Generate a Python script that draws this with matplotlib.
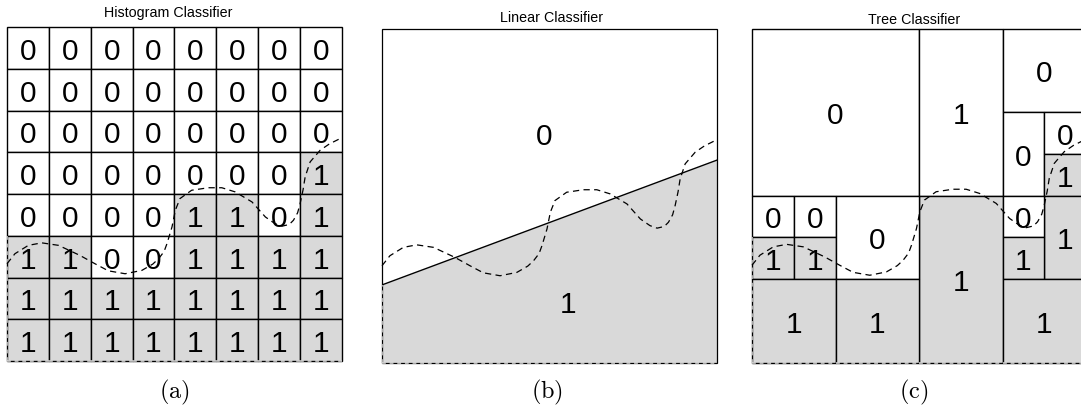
import matplotlib.pyplot as plt
from matplotlib.patches import Rectangle

plt.rcParams['font.family'] = ['Liberation Sans', 'DejaVu Sans']
plt.rcParams['mathtext.fontset'] = 'cm'

W, H = 1081, 406
GRAY = '#d9d9d9'

# histogram classifier, 8x8 cells, top row first
hist_labels = [
    [0, 0, 0, 0, 0, 0, 0, 0],
    [0, 0, 0, 0, 0, 0, 0, 0],
    [0, 0, 0, 0, 0, 0, 0, 0],
    [0, 0, 0, 0, 0, 0, 0, 1],
    [0, 0, 0, 0, 1, 1, 0, 1],
    [1, 1, 0, 0, 1, 1, 1, 1],
    [1, 1, 1, 1, 1, 1, 1, 1],
    [1, 1, 1, 1, 1, 1, 1, 1],
]

# true class boundary (dashed), in grid units 0..8
curve_x = [0.0, 0.19, 0.51, 0.83, 1.23, 1.74, 2.10, 2.42, 2.82, 3.22, 3.48,
           3.62, 3.75, 3.82, 3.94, 4.02, 4.13, 4.41, 4.81, 5.13, 5.45, 5.85,
           6.17, 6.40, 6.57, 6.74, 6.84, 6.94, 7.00, 7.07, 7.12, 7.24, 7.48,
           7.70, 7.96]
curve_y = [2.33, 2.57, 2.77, 2.83, 2.77, 2.53, 2.33, 2.16, 2.09, 2.17, 2.32,
           2.45, 2.62, 2.81, 3.21, 3.61, 3.89, 4.09, 4.15, 4.15, 4.05, 3.81,
           3.45, 3.29, 3.23, 3.27, 3.37, 3.55, 3.77, 4.10, 4.41, 4.77, 5.05,
           5.20, 5.33]

# linear classifier boundary
line_x = [0, 8]
line_y = [1.87, 4.86]
lin_label_x = [3.86, 4.45]
lin_label_y = [5.52, 1.49]
lin_labels = ['0', '1']

# tree classifier leaves
tree_x0 = [0, 4, 4, 6, 6, 7, 7, 7, 6, 6, 6, 0, 1, 0, 1, 2, 0, 2]
tree_y0 = [4, 4, 0, 6, 4, 5, 4, 2, 3, 2, 0, 3, 3, 2, 2, 2, 0, 0]
tree_x1 = [4, 6, 6, 8, 7, 8, 8, 8, 7, 7, 8, 1, 2, 1, 2, 4, 2, 4]
tree_y1 = [8, 8, 4, 8, 6, 6, 5, 4, 4, 3, 2, 4, 4, 3, 3, 4, 2, 2]
tree_label = [0, 1, 1, 0, 0, 0, 1, 1, 0, 1, 1, 0, 0, 1, 1, 0, 1, 1]
tree_shade = [0, 0, 1, 0, 0, 0, 1, 1, 0, 1, 1, 0, 0, 1, 1, 0, 1, 1]


def panel(left, top, right, bottom):
    ax = fig.add_axes([left / W, 1 - bottom / H, (right - left) / W, (bottom - top) / H])
    ax.set_xlim(0, 8)
    ax.set_ylim(0, 8)
    ax.axis('off')
    return ax


def gray_edge(ax, xs, ys):
    # outer border along shaded area looks dashed
    ax.plot(xs, ys, color=GRAY, lw=1.1, linestyle=(0, (2.5, 2.5)), clip_on=False, zorder=4)


def draw_curve(ax):
    ax.plot(curve_x, curve_y, color='black', lw=0.9, linestyle=(0, (5, 3.5)),
            clip_on=False, zorder=5)


def cell_text(ax, x, y, s):
    ax.text(x, y, s, ha='center', va='center_baseline', fontsize=21.5, zorder=3)


fig = plt.figure(figsize=(W / 100, H / 100), dpi=100)

# (a) histogram classifier
ax = panel(7, 28, 342, 362)
for r, row in enumerate(hist_labels):
    for c, lab in enumerate(row):
        y0 = 7 - r
        ax.add_patch(Rectangle((c, y0), 1, 1, facecolor=GRAY if lab else 'white',
                               edgecolor='black', lw=1.0, clip_on=False, zorder=2))
        cell_text(ax, c + 0.5, y0 + 0.5, str(lab))
        if lab and c == 0:
            gray_edge(ax, [0, 0], [y0, y0 + 1])
        if lab and r == 7:
            gray_edge(ax, [c, c + 1], [0, 0])
draw_curve(ax)

# (b) linear classifier
ax = panel(382, 30, 717, 364)
ax.fill_between(line_x, line_y, 0, color=GRAY, lw=0, zorder=1)
ax.plot(line_x, line_y, color='black', lw=1.0, zorder=3)
ax.add_patch(Rectangle((0, 0), 8, 8, fill=False, edgecolor='black', lw=0.9,
                       clip_on=False, zorder=2))
gray_edge(ax, [0, 0], [0, line_y[0]])
gray_edge(ax, [0, 8], [0, 0])
for x, y, s in zip(lin_label_x, lin_label_y, lin_labels):
    cell_text(ax, x, y, s)
draw_curve(ax)

# (c) tree classifier
ax = panel(752, 29.5, 1086, 363.5)
for x0, y0, x1, y1, lab, sh in zip(tree_x0, tree_y0, tree_x1, tree_y1, tree_label, tree_shade):
    ax.add_patch(Rectangle((x0, y0), x1 - x0, y1 - y0, facecolor=GRAY if sh else 'white',
                           edgecolor='black', lw=1.0, clip_on=False, zorder=2))
    cell_text(ax, (x0 + x1) / 2, (y0 + y1) / 2, str(lab))
    if sh and x0 == 0:
        gray_edge(ax, [0, 0], [y0, y1])
    if sh and y0 == 0:
        gray_edge(ax, [x0, x1], [0, 0])
draw_curve(ax)

# titles and captions
titles = ['Histogram Classifier', 'Linear Classifier', 'Tree Classifier']
title_x = [168, 552, 914]
title_y = [17, 21.5, 24]
captions = ['(a)', '(b)', '(c)']
caption_x = [174, 547, 914]
for s, x, y in zip(titles, title_x, title_y):
    fig.text(x / W, 1 - y / H, s, ha='center', va='baseline', fontsize=10.3)
for s, x in zip(captions, caption_x):
    fig.text(x / W, 1 - 392 / H, r'$\mathrm{' + s + '}$', ha='center', va='center', fontsize=17.5)

fig.savefig('out.png', dpi=100)
